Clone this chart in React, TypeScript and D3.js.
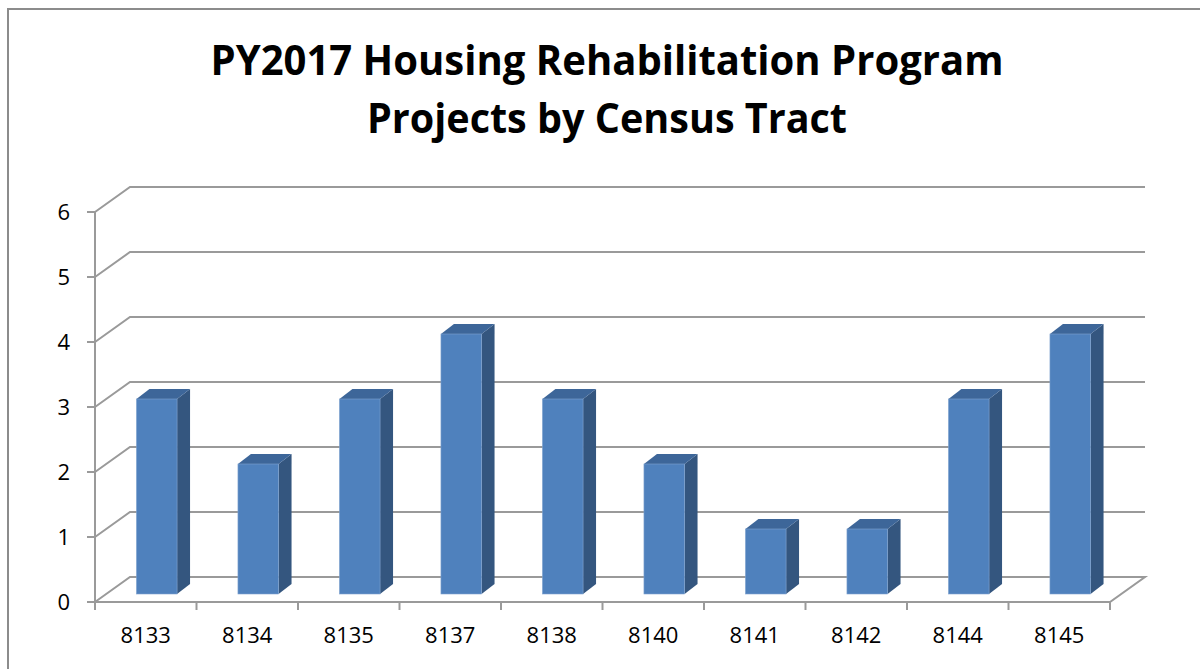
import { useEffect, useRef } from 'react';
import * as d3 from 'd3';

const tracts = ['8133', '8134', '8135', '8137', '8138', '8140', '8141', '8142', '8144', '8145'];
const projects = [3, 2, 3, 4, 3, 2, 1, 1, 3, 4];
const yTicks = [0, 1, 2, 3, 4, 5, 6];
const titleLines = ['PY2017 Housing Rehabilitation Program', 'Projects by Census Tract'];

export default function App() {
  const svgRef = useRef<SVGSVGElement | null>(null);

  useEffect(() => {
    if (!svgRef.current) return;
    const svg = d3.select(svgRef.current);
    svg.selectAll('*').remove();

    const left = 95, right = 1110, bottom = 602, top = 212;
    const depthX = 35, depthY = -25;       // wall depth
    const barOffX = 11, barOffY = -8;      // bar front plane
    const barDX = 13, barDY = -10;         // bar depth
    const gridColor = '#9a9a9a';
    const font = "'Open Sans', 'Liberation Sans', sans-serif";

    const x = d3.scaleBand<string>()
      .domain(tracts)
      .range([left, right])
      .paddingInner(0.6)
      .paddingOuter(0.3);
    const xStep = d3.scaleBand<string>().domain(tracts).range([left, right]);
    const y = d3.scaleLinear().domain([0, 6]).range([bottom, top]);

    // border
    svg.append('rect')
      .attr('x', 8).attr('y', 9)
      .attr('width', 1200).attr('height', 700)
      .attr('fill', '#fff')
      .attr('stroke', '#8c8c8c').attr('stroke-width', 2);

    // title
    const titleWidths = [793, 480];
    svg.append('g').selectAll('text')
      .data(titleLines)
      .enter().append('text')
      .attr('x', 607)
      .attr('y', (d, i) => 75 + i * 58)
      .attr('text-anchor', 'middle')
      .attr('font-family', font)
      .attr('font-weight', 'bold')
      .attr('font-size', 41)
      .attr('textLength', (d, i) => titleWidths[i])
      .attr('lengthAdjust', 'spacingAndGlyphs')
      .attr('fill', '#000')
      .text(d => d);

    const grid = svg.append('g')
      .attr('fill', 'none')
      .attr('stroke', gridColor)
      .attr('stroke-width', 2);

    // back wall gridlines + side slants
    yTicks.forEach(t => {
      const yy = y(t);
      if (t === 0) {
        grid.append('path')
          .attr('d', `M${left},${yy}L${left + depthX},${yy + depthY}L${right + depthX},${yy + depthY}L${right},${yy}Z`);
      } else {
        grid.append('path')
          .attr('d', `M${left},${yy}L${left + depthX},${yy + depthY}L${right + depthX},${yy + depthY}`);
      }
    });

    // vertical axis + ticks
    grid.append('line')
      .attr('x1', left).attr('x2', left)
      .attr('y1', y(6)).attr('y2', y(0));
    yTicks.forEach(t => {
      grid.append('line')
        .attr('x1', left - 8).attr('x2', left)
        .attr('y1', y(t)).attr('y2', y(t));
    });
    // category ticks
    tracts.concat(['end']).forEach((c, i) => {
      const xx = i < tracts.length ? (xStep(c) as number) : right;
      grid.append('line')
        .attr('x1', xx).attr('x2', xx)
        .attr('y1', bottom).attr('y2', bottom + 8);
    });

    // bars
    const bars = svg.append('g');
    tracts.forEach((c, i) => {
      const v = projects[i];
      const x0 = (x(c) as number) + barOffX;
      const x1 = x0 + x.bandwidth();
      const yb = y(0) + barOffY;
      const yt = y(v) + barOffY;
      // side
      bars.append('path')
        .attr('d', `M${x1},${yt}L${x1 + barDX},${yt + barDY}L${x1 + barDX},${yb + barDY}L${x1},${yb}Z`)
        .attr('fill', '#34567f');
      // top
      bars.append('path')
        .attr('d', `M${x0},${yt}L${x0 + barDX},${yt + barDY}L${x1 + barDX},${yt + barDY}L${x1},${yt}Z`)
        .attr('fill', '#3d6699');
      // front
      bars.append('rect')
        .attr('x', x0).attr('y', yt)
        .attr('width', x1 - x0).attr('height', yb - yt)
        .attr('fill', '#4f81bd')
        .attr('stroke', '#7fa2cf').attr('stroke-width', 0.6);
    });

    // y labels
    svg.append('g').selectAll('text')
      .data(yTicks)
      .enter().append('text')
      .attr('x', 70)
      .attr('y', d => y(d) + 8)
      .attr('text-anchor', 'end')
      .attr('font-family', font)
      .attr('font-size', 22)
      .attr('fill', '#000')
      .text(d => d);

    // x labels
    svg.append('g').selectAll('text')
      .data(tracts)
      .enter().append('text')
      .attr('x', d => (xStep(d) as number) + xStep.bandwidth() / 2)
      .attr('y', 643)
      .attr('text-anchor', 'middle')
      .attr('font-family', font)
      .attr('font-size', 22)
      .attr('fill', '#000')
      .text(d => d);
  }, []);

  return (
    <div style={{ position: 'absolute', left: 0, top: 0 }}>
      <svg ref={svgRef} width={1200} height={669} style={{ display: 'block' }}></svg>
    </div>
  );
}
